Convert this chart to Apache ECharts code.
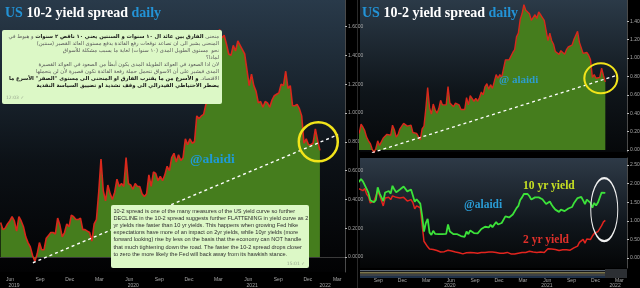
<!DOCTYPE html>
<html>
<head>
<meta charset="utf-8">
<script src="https://cdn.jsdelivr.net/npm/echarts@6.0.0/dist/echarts.min.js"></script>
<style>
html,body{margin:0;padding:0;background:#000;overflow:hidden}
#chart{width:640px;height:288px}
</style>
</head>
<body>
<div id="chart"></div>
<script>
// ---------------- data (weekly closes, Fridays) ----------------
const weekStart = '2019-05-17';
const spread = [
  0.24,0.19,0.20, 0.23,0.25,0.28,0.25, 0.18,0.28,0.25,0.21, 0.14,0.10,0.07,0.01,-0.03, 0.02,0.10,0.05,0.05,
  0.13,0.15,0.17,0.17, 0.16,0.27,0.22,0.14,0.17, 0.23,0.21,0.29,0.28,
  0.26,0.26,0.27,0.19,0.19, 0.18,0.17,0.11,0.23, 0.26,0.45,0.68,0.46, 0.39,0.50,0.44,0.40,
  0.45,0.54,0.49,0.51,0.49, 0.69,0.51,0.50,0.47, 0.51,0.49,0.49,0.44,0.42, 0.44,0.57,0.49,0.59,
  0.58,0.53,0.56,0.53, 0.57,0.63,0.60,0.69,0.72, 0.66,0.71,0.67,0.69, 0.82,0.78,0.82,0.79,
  0.80,0.98,0.96,0.98,0.99, 1.06,1.09,1.23,1.27, 1.42,1.48,1.58,1.52, 1.54,1.48,1.41,1.40,1.47,
  1.43,1.50,1.47,1.44, 1.41,1.30,1.19,1.27, 1.19,1.15,1.07,1.08,1.04, 1.08,1.07,1.04,1.09,
  1.12,1.13,1.14,1.20, 1.19,1.29,1.17,1.19,1.05, 1.05,1.06,1.03,0.98, 0.79,0.82,0.78,0.78,0.79,
  0.89,0.81,0.74
];
const tenYr = [
  2.39,2.32,2.14, 2.08,2.09,2.07,2.00, 2.04,2.12,2.06,2.08, 1.86,1.75,1.55,1.52,1.50, 1.56,1.90,1.74,1.69,
  1.53,1.76,1.76,1.80, 1.73,1.94,1.84,1.77,1.78, 1.84,1.82,1.92,1.88,
  1.79,1.82,1.84,1.68,1.51, 1.58,1.59,1.46,1.13, 0.71,0.94,1.05,0.68, 0.62,0.73,0.65,0.60,
  0.64,0.68,0.64,0.66,0.65, 0.90,0.71,0.69,0.64, 0.67,0.64,0.63,0.59,0.55, 0.57,0.71,0.64,0.74,
  0.72,0.67,0.70,0.66, 0.70,0.78,0.75,0.84,0.88, 0.82,0.89,0.83,0.84, 0.97,0.90,0.95,0.94,
  0.93,1.12,1.11,1.09,1.11, 1.17,1.20,1.34,1.40, 1.56,1.63,1.72,1.67, 1.72,1.66,1.57,1.56,1.63,
  1.58,1.63,1.63,1.58, 1.56,1.45,1.44,1.52, 1.43,1.36,1.30,1.28,1.24, 1.30,1.29,1.26,1.31,
  1.33,1.34,1.37,1.47, 1.48,1.61,1.59,1.64,1.55, 1.45,1.57,1.54,1.48, 1.35,1.48,1.41,1.49,1.52,
  1.76,1.78,1.75
];
const twoYr = [
  2.15,2.13,1.94, 1.85,1.84,1.79,1.75, 1.86,1.84,1.81,1.87, 1.72,1.65,1.48,1.51,1.53, 1.54,1.80,1.69,1.64,
  1.40,1.61,1.59,1.63, 1.57,1.67,1.62,1.63,1.61, 1.61,1.61,1.63,1.60,
  1.53,1.56,1.57,1.49,1.32, 1.40,1.42,1.35,0.90, 0.45,0.49,0.30,0.24, 0.23,0.23,0.21,0.20,
  0.19,0.16,0.15,0.17,0.16, 0.21,0.20,0.19,0.17, 0.16,0.15,0.14,0.15,0.11, 0.13,0.14,0.15,0.15,
  0.14,0.14,0.14,0.13, 0.13,0.15,0.15,0.15,0.16, 0.16,0.18,0.16,0.15, 0.15,0.12,0.13,0.13,
  0.13,0.14,0.15,0.12,0.11, 0.11,0.11,0.11,0.13, 0.14,0.15,0.14,0.15, 0.18,0.18,0.16,0.16,0.16,
  0.15,0.15,0.16,0.14, 0.15,0.15,0.25,0.26, 0.24,0.21,0.23,0.20,0.20, 0.22,0.22,0.22,0.22,
  0.21,0.21,0.23,0.27, 0.29,0.32,0.42,0.45,0.50, 0.40,0.51,0.51,0.50, 0.59,0.66,0.65,0.71,0.73,
  0.87,0.97,1.01
];
const leftTrend  = [['2019-08-24', -0.04], ['2022-03-18', 0.85]];
const rightTrend = [['2019-08-22', -0.03], ['2022-03-09', 0.815]];
const leftCircle  = ['2022-01-16', 0.80];
const rightCircle = ['2022-01-04', 0.78];
const yieldEllipse = ['2022-01-17', 1.30];

const leftMonthTicks  = ['2019-06-15','2019-09-15','2019-12-15','2020-03-15','2020-06-15','2020-09-15','2020-12-15','2021-03-15','2021-06-15','2021-09-15','2021-12-15','2022-03-15'];
const rightMonthTicks = ['2019-09-15','2019-12-15','2020-03-15','2020-06-15','2020-09-15','2020-12-15','2021-03-15','2021-06-15','2021-09-15','2021-12-15','2022-03-15'];
const leftYearTicks  = ['2019-06-27','2020-06-27','2021-06-27','2022-02-06'];
const rightYearTicks = ['2020-06-12','2021-06-14','2022-02-27'];
const spreadTicksLeft  = [0,0.2,0.4,0.6,0.8,1.0,1.2,1.4,1.6];
const spreadTicksRight = [0,0.2,0.4,0.6,0.8,1.0,1.2,1.4];
const yieldTicks = [0,0.5,1.0,1.5,2.0,2.5];

const englishLines = [
  '10-2 spread is one of the many measures of the US yield curve so further',
  'DECLINE in the 10-2 spread suggests further FLATTENING in yield curve as 2',
  'yr yields rise faster than 10 yr yields. This happens when growing Fed hike',
  'expectations have more of an impact on 2yr yields, while 10yr yields (more',
  'forward looking) rise by less on the basis that the economy can NOT handle',
  'that much tightening down the road. The faster the 10-2 spread drops closer',
  'to zero the more likely the Fed will back away from its hawkish stance.'
];
// each row: segments in reading order, 1 = bold
const arabicRows = [
  [['منحنى',0],['الفارق بين عائد ال ١٠ سنوات و السنتين يعني ١٠ ناقص ٢ سنوات',1],['و هبوط في',0]],
  [['المنحنى يشير الى ان تصاعد توقعات رفع الفائدة يدفع مستوى العائد القصير (سنتين)',0]],
  [['نحو  مستوى الطويل المدى (١٠ سنوات) لغاية ما يسبب مشكلة للأسواق',0]],
  [['لماذا؟',0]],
  [['لان اذا الصعود في العوائد الطويلة المدى يكون أبطأ من الصعود في العوائد القصيرة',0]],
  [['المدى فيشير على أن الاسواق تتحمل حملة رفعة الفائدة تكون قصيرة لأن لن يتحملها',0]],
  [['الاقتصاد.',0],['و الأسرع من ما يقترب الفارق او المنحنى الى مستوى "الصفر" الأسرع ما',1]],
  [['يضطر الاحتياطي الفيدرالي الى وقف تشديد او تضييق السياسة النقدية',1]]
];

// ---------------- helpers ----------------
const DAY = 86400000;
const ts = s => Date.parse(s + 'T00:00:00Z');
const t0 = ts(weekStart);
const dates = spread.map((_, i) => t0 + i * 7 * DAY);
const pairs = arr => arr.map((v, i) => [dates[i], v]);
const tpairs = arr => arr.map(p => [ts(p[0]), p[1]]);
const MN = ['Jan','Feb','Mar','Apr','May','Jun','Jul','Aug','Sep','Oct','Nov','Dec'];
const monthFmt = v => MN[new Date(v).getUTCMonth()];
const yearFmt = v => String(new Date(v).getUTCFullYear());
const LBL = '#a9a9a9';
const SANS = 'Liberation Sans';
const SERIF = 'Liberation Serif';
const AR = 'DejaVu Sans';
const AR_SIZE = 5.3;
const ellipsePath = 'path://M0,50A50,50,0,1,1,100,50A50,50,0,1,1,0,50Z';

function monthAxis(grid, min, max, ticks, margin, showLine) {
  return {type:'value', gridIndex:grid, position:'bottom', min:ts(min), max:ts(max), scale:true,
    axisLine:{show:showLine, lineStyle:{color:'#3a3a3a', width:1}},
    axisTick:{show:false}, splitLine:{show:false},
    axisLabel:{customValues:ticks.map(ts), formatter:monthFmt, color:LBL, fontSize:5, fontFamily:SANS, margin:margin, hideOverlap:false}};
}
function yearAxis(grid, min, max, ticks, margin, offset) {
  return {type:'value', gridIndex:grid, position:'bottom', min:ts(min), max:ts(max), offset:offset, scale:true,
    axisLine:{show:false}, axisTick:{show:false}, splitLine:{show:false},
    axisLabel:{customValues:ticks.map(ts), formatter:yearFmt, color:LBL, fontSize:5, fontFamily:SANS, margin:margin, hideOverlap:false}};
}
function valAxis(grid, min, max, ticks, digits) {
  return {type:'value', gridIndex:grid, position:'right', min:min, max:max,
    axisLine:{show:true, lineStyle:{color:'#4a4a4a'}},
    axisTick:{show:true, customValues:ticks, length:2, lineStyle:{color:'#bbb'}},
    splitLine:{show:false},
    axisLabel:{customValues:ticks, formatter:v => v.toFixed(digits), color:LBL, fontSize:5, fontFamily:SANS, margin:3}};
}
function lastLabel(val, bg, digits) {
  return {silent:true, symbol:'none', animation:false, lineStyle:{opacity:0},
    label:{show:true, position:'end', distance:1, formatter:() => val.toFixed(digits),
      backgroundColor:bg, color:'#fff', fontSize:5, fontFamily:SANS, padding:[1,2,0,2]},
    data:[{yAxis:val}]};
}
function ring(coord, size, color, symbol, width) {
  return {silent:true, animation:false, label:{show:false},
    data:[{coord:[ts(coord[0]), coord[1]], symbol:symbol, symbolSize:size, symbolKeepAspect:false,
      itemStyle:{color:'rgba(0,0,0,0)', borderColor:color, borderWidth:width}}]};
}
function bg(x, y, w, h, c0, c1, c2) {
  return {type:'rect', z:0, silent:true, shape:{x:x, y:y, width:w, height:h},
    style:{fill:new echarts.graphic.LinearGradient(0,0,0,1,[{offset:0,color:c0},{offset:0.6,color:c1},{offset:1,color:c2}])}};
}
function txt(x, y, text, style, z) {
  return {type:'text', x:x, y:y, z:z || 60, silent:true,
    style:Object.assign({text:text, verticalAlign:'middle'}, style)};
}
function title(x, y) {
  return txt(x, y, '{u|US} {w|10-2 yield spread} {u|daily}', {
    fontFamily:SERIF, fontWeight:'bold', fontSize:14, fill:'#fff',
    rich:{u:{fill:'#2393d6', fontFamily:SERIF, fontWeight:'bold', fontSize:14},
          w:{fill:'#ffffff', fontFamily:SERIF, fontWeight:'bold', fontSize:14}}});
}

// ---------------- graphics (backgrounds, notes) ----------------
const g = [];
g.push(bg(0, 0, 345, 272, '#293a4a', '#0c1116', '#020203'));
g.push(bg(360, 0, 267, 152, '#2b3a48', '#0f151a', '#06080a'));
g.push(bg(360, 158, 267, 110, '#2e3a47', '#10161c', '#040506'));
g.push({type:'rect', z:1, silent:true, shape:{x:357, y:0, width:1, height:288}, style:{fill:'#2a2a2a'}});
[[270,1.2,'#5b6672'],[272.2,1.4,'#a39c6a'],[274.4,1.2,'#7d848c'],[276.4,1,'#3f6290']].forEach(s => {
  g.push({type:'rect', z:1, silent:true, shape:{x:360, y:s[0], width:245, height:s[1]}, style:{fill:s[2]}});
});
g.push({type:'rect', z:1, silent:true, shape:{x:605, y:269, width:22, height:9}, style:{fill:'#2c2f33'}});

g.push(title(5, 13));
g.push(title(362, 13));
g.push(txt(190, 160, '@alaidi', {fontFamily:SERIF, fontWeight:'bold', fontSize:13.5, fill:'#1f9ad6'}));
g.push(txt(499, 80, '@ alaidi', {fontFamily:SERIF, fontWeight:'bold', fontSize:11, fill:'#2d9ccc'}));
g.push(txt(464, 205, '@alaidi', {fontFamily:SERIF, fontWeight:'bold', fontSize:11.5, fill:'#2a9bd4'}));
g.push(txt(523, 186, '10 yr yield', {fontFamily:SERIF, fontWeight:'bold', fontSize:11.5, fill:'#c6e023'}));
g.push(txt(523, 240, '2 yr yield', {fontFamily:SERIF, fontWeight:'bold', fontSize:11.5, fill:'#e0302a'}));

g.push({type:'rect', z:50, silent:true, shape:{x:2, y:30, width:220, height:74, r:2}, style:{fill:'#dcf8c6'}});
const RLE = '\u202B', PDF = '\u202C';
arabicRows.forEach((row, i) => {
  const parts = row.slice().reverse().map(s => '{' + (s[1] ? 'b' : 'n') + '|' + RLE + s[0] + PDF + '}');
  g.push(txt(219, 37 + i * 7, parts.join(' '), {
    align:'right', fontFamily:AR, fontSize:AR_SIZE, fill:'#555',
    rich:{n:{fill:'#5a5a5a', fontFamily:AR, fontSize:AR_SIZE},
          b:{fill:'#151515', fontFamily:AR, fontSize:AR_SIZE, fontWeight:'bold'}}}, 55));
});
g.push(txt(6, 98, '12:03 \u2713', {fontFamily:AR, fontSize:4.5, fill:'#9aa890'}, 55));

g.push({type:'rect', z:50, silent:true, shape:{x:111, y:205, width:198, height:63, r:2}, style:{fill:'#dcf8c6'}});
englishLines.forEach((line, i) => {
  g.push(txt(113.5, 211 + i * 7.2, line, {fontFamily:SANS, fontSize:5.6, fill:'#2e2e2e'}, 55));
});
g.push(txt(305, 264, '15:01 \u2713', {align:'right', fontFamily:AR, fontSize:4.5, fill:'#9aa890'}, 55));

// ---------------- chart ----------------
const chart = echarts.init(document.getElementById('chart'), null, {renderer:'canvas'});
const lastSpread = spread[spread.length - 1];
const last10 = tenYr[tenYr.length - 1];
const last2 = twoYr[twoYr.length - 1];

chart.setOption({
  backgroundColor:'#000',
  animation:false,
  grid:[
    {left:0, top:0, width:345, height:272, outerBoundsMode:'none', containLabel:false},
    {left:360, top:0, width:267, height:152, outerBoundsMode:'none', containLabel:false},
    {left:360, top:158, width:267, height:110, outerBoundsMode:'none', containLabel:false}
  ],
  xAxis:[
    monthAxis(0, '2019-05-15', '2022-04-08', leftMonthTicks, 5, true),
    yearAxis(0, '2019-05-15', '2022-04-08', leftYearTicks, 5, 6),
    {type:'value', gridIndex:1, position:'bottom', min:ts('2019-07-08'), max:ts('2022-04-13'), show:false, scale:true},
    monthAxis(2, '2019-07-08', '2022-04-13', rightMonthTicks, 10, false),
    yearAxis(2, '2019-07-08', '2022-04-13', rightYearTicks, 10, 5)
  ],
  yAxis:[
    valAxis(0, -0.1042, 1.7847, spreadTicksLeft, 4),
    valAxis(1, -0.0217, 1.6304, spreadTicksRight, 2),
    valAxis(2, -0.269, 2.688, yieldTicks, 2)
  ],
  series:[
    {type:'line', xAxisIndex:0, yAxisIndex:0, data:pairs(spread), symbol:'none', z:2,
     lineStyle:{color:'#d8281c', width:1.6}, areaStyle:{color:'#457d1d', opacity:1, origin:0},
     markLine:lastLabel(lastSpread, '#e3221c', 4),
     markPoint:ring(leftCircle, 39, '#f2e41a', 'circle', 2.5)},
    {type:'line', xAxisIndex:0, yAxisIndex:0, data:tpairs(leftTrend), symbol:'none', z:3,
     lineStyle:{color:'#ffffff', width:1.4, type:[3,3]}},
    {type:'line', xAxisIndex:2, yAxisIndex:1, data:pairs(spread), symbol:'none', z:2,
     lineStyle:{color:'#d8281c', width:1.4}, areaStyle:{color:'#457d1d', opacity:1, origin:0},
     markLine:lastLabel(lastSpread, '#e3221c', 3),
     markPoint:ring(rightCircle, [33,30], '#f2e41a', ellipsePath, 2)},
    {type:'line', xAxisIndex:2, yAxisIndex:1, data:tpairs(rightTrend), symbol:'none', z:3,
     lineStyle:{color:'#ffffff', width:1.3, type:[3,3]}},
    {type:'line', xAxisIndex:3, yAxisIndex:2, data:pairs(twoYr), symbol:'none', z:3,
     lineStyle:{color:'#e2241e', width:1.5},
     markLine:lastLabel(last2, '#e3221c', 4)},
    {type:'line', xAxisIndex:3, yAxisIndex:2, data:pairs(tenYr), symbol:'none', z:4,
     lineStyle:{color:'#3ce23a', width:1.8},
     markLine:lastLabel(last10, '#2fcf2c', 4),
     markPoint:ring(yieldEllipse, [27,63], '#f0f0f0', ellipsePath, 1.5)}
  ],
  graphic:g
});
</script>
</body>
</html>
